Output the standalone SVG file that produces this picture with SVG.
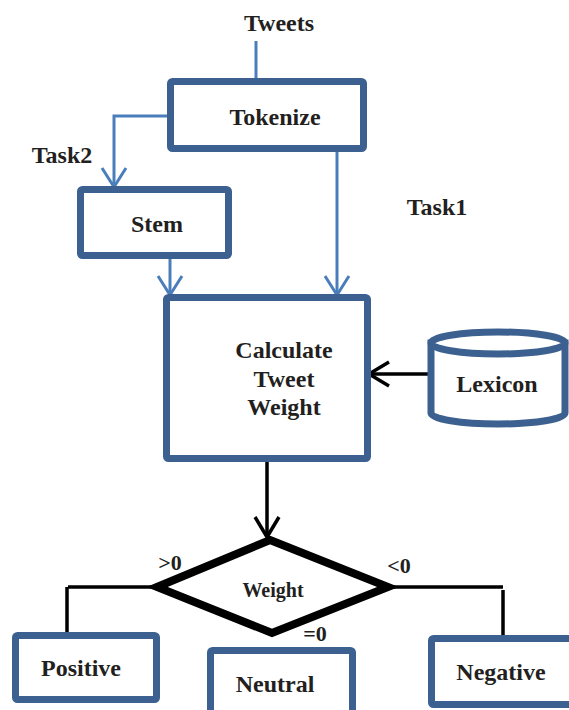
<svg xmlns="http://www.w3.org/2000/svg" width="569" height="710" viewBox="0 0 569 710">
<style>
.box{fill:#fff;stroke:#3C6190;stroke-width:7;stroke-linejoin:round}
.t{font-family:'Liberation Serif','Times New Roman',serif;font-weight:700;font-size:24px;fill:#231F20;text-anchor:middle}
.s{font-size:22px}
.w{font-size:20px}
.blue{fill:none;stroke:#4A7EBB;stroke-width:3}
.blk{fill:none;stroke:#000;stroke-width:3.5}
</style>
<defs>
<marker id="ab" markerUnits="userSpaceOnUse" viewBox="-22 -14 24 28" refX="0" refY="0" markerWidth="24" markerHeight="28" orient="auto" overflow="visible">
<path d="M-19,-12 L0,0 L-19,12" fill="none" stroke="#4A7EBB" stroke-width="3"/>
</marker>
<marker id="ak" markerUnits="userSpaceOnUse" viewBox="-22 -14 24 28" refX="0" refY="0" markerWidth="24" markerHeight="28" orient="auto" overflow="visible">
<path d="M-20,-12 L0,0 L-20,12" fill="none" stroke="#000" stroke-width="3.5"/>
</marker>
</defs>
<g id="connectors">
<line class="blue" x1="256" y1="41" x2="256" y2="80"/>
<path class="blue" d="M168,116 H114 V187" marker-end="url(#ab)"/>
<path class="blue" d="M337,152 V295" marker-end="url(#ab)"/>
<path class="blue" d="M170,259 V295" marker-end="url(#ab)"/>
<path class="blk" d="M436,374 H369" marker-end="url(#ak)"/>
<path class="blk" d="M267,462 V537" marker-end="url(#ak)"/>
<path class="blk" d="M157,587 H68 M67,587 V633"/>
<path class="blk" d="M388,587 H503 M503,590 V637"/>
</g>
<g id="tweets"><text class="t" x="279" y="31">Tweets</text></g>
<g id="tokenize"><rect class="box" x="170.5" y="81.5" width="193" height="67" rx="2"/><text class="t" x="275" y="125">Tokenize</text></g>
<g id="task2"><text class="t" x="62" y="163">Task2</text></g>
<g id="task1"><text class="t" x="437" y="215">Task1</text></g>
<g id="stem"><rect class="box" x="80.5" y="189.5" width="148" height="66" rx="2"/><text class="t" x="157" y="232">Stem</text></g>
<g id="calculate"><rect class="box" x="166.5" y="297.5" width="201" height="161" rx="2"/>
<text class="t" x="284" y="358">Calculate</text><text class="t" x="284" y="387">Tweet</text><text class="t" x="284" y="415">Weight</text></g>
<g id="lexicon">
<path d="M431,343 V413 A67,11 0 0 0 565,413 V343 Z" fill="#fff" stroke="#3C6190" stroke-width="7"/>
<ellipse cx="498" cy="343" rx="67" ry="11" fill="#fff" stroke="#3C6190" stroke-width="7"/>
<text class="t" x="497" y="392">Lexicon</text></g>
<g id="weight">
<polygon points="270,540 388,587 272,633 157,587" fill="#fff" stroke="#000" stroke-width="8" stroke-linejoin="miter"/>
<text class="t w" x="273" y="597">Weight</text></g>
<g id="labels">
<text class="t s" x="170" y="570">&gt;0</text>
<text class="t s" x="399" y="573">&lt;0</text>
<text class="t s" x="315" y="641">=0</text>
</g>
<g id="positive"><rect class="box" x="15.5" y="635.5" width="141" height="64" rx="2"/><text class="t" x="81" y="676">Positive</text></g>
<g id="neutral"><rect class="box" x="210.5" y="650.5" width="142" height="80" rx="2"/><text class="t" x="275" y="692">Neutral</text></g>
<g id="negative"><rect class="box" x="431.5" y="638.5" width="150" height="66" rx="2"/><text class="t" x="501" y="680">Negative</text></g>
</svg>
